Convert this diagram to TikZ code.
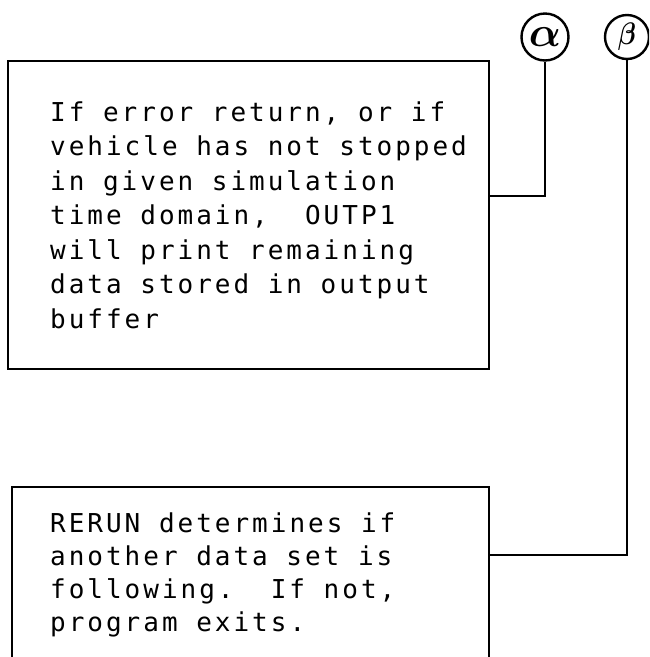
\documentclass[tikz,border=0pt]{standalone}
\usepackage{graphicx}
\usepackage{fontspec}
\newfontfamily\memofont{DejaVu Sans Mono}[LetterSpace=11.5]
\tikzset{
  boxframe/.style={draw, rectangle, inner sep=0pt, anchor=north west, line width=1.8pt},
  tag/.style={draw, circle, inner sep=0pt, line width=2.4pt, font=\Huge\boldmath},
  memo/.style={inner sep=0pt, anchor=base west, font=\memofont\fontsize{26}{34.5}\selectfont},
  wire/.style={line width=1.8pt},
}
% stack of lines with a fixed pitch; the first line carries the baseline
\newcommand\memolines[2]{\vtop{\frenchspacing\spaceskip=18.6pt\relax
  \baselineskip=#1\relax\lineskiplimit=-100pt\relax\lineskip=0pt\relax #2}}
\begin{document}
\begin{tikzpicture}[x=1pt, y=-1pt]
  \useasboundingbox (0,0) rectangle (649,657);
  \clip (0,0) rectangle (649,657);

  % connector tags
  \node[tag, minimum size=47pt] (alpha) at (545,37) {\scalebox{1.7}{$\alpha$}};
  \node[tag, minimum size=44pt] (beta)  at (627,37) {\scalebox{1.05}[1.25]{$\beta$}};

  % comment boxes (the lower one runs off the bottom edge)
  \node[boxframe, minimum width=481pt, minimum height=308pt] (b1) at (7,60) {};
  \node[boxframe, minimum width=477pt, minimum height=260pt] (b2) at (11,486) {};

  % box texts
  \node[memo] (t1) at (50,121) {\memolines{34.5pt}{%
    \hbox{If error return, or if}%
    \hbox{vehicle has not stopped}%
    \hbox{in given simulation}%
    \hbox{time domain,\ \ OUTP1}%
    \hbox{will print remaining}%
    \hbox{data stored in output}%
    \hbox{buffer}}};
  \node[memo] (t2) at (50,532) {\memolines{33pt}{%
    \hbox{RERUN determines if}%
    \hbox{another data set is}%
    \hbox{following.\ \ If not,}%
    \hbox{program exits.}}};

  % connectors
  \coordinate (b1port) at (b1.east |- 0,196);
  \coordinate (b2port) at (b2.east |- 0,555);
  \draw[wire] (alpha.south) |- (b1port);
  \draw[wire] (beta.south) |- (b2port);
\end{tikzpicture}
\end{document}
